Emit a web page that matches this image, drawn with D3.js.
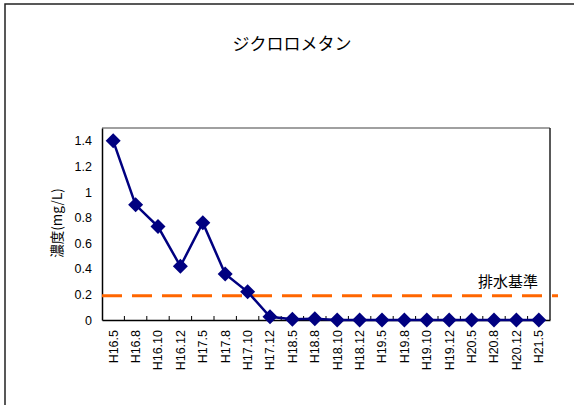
<!DOCTYPE html>
<html><head><meta charset="utf-8">
<script src="https://cdn.jsdelivr.net/npm/d3@7"></script>
<style>html,body{margin:0;padding:0;background:#fff;overflow:hidden}</style>
</head><body>
<svg id="c" width="574" height="405"></svg>
<script>
const categories = ["H16.5","H16.8","H16.10","H16.12","H17.5","H17.8","H17.10","H17.12","H18.5","H18.8","H18.10","H18.12","H19.5","H19.8","H19.10","H19.12","H20.5","H20.8","H20.12","H21.5"];
const values = [1.4,0.90,0.73,0.42,0.76,0.36,0.22,0.025,0.005,0.01,0,0,0,0,0,0,0,0,0,0];
const yTicks = [0,0.2,0.4,0.6,0.8,1,1.2,1.4];
const standardValue = 0.19;
const title = "ジクロロメタン";
const yLabel = "濃度(mg/L)";
const standardLabel = "排水基準";

const svg = d3.select("#c");
const jp = "'Noto Sans CJK JP','Noto Sans',sans-serif";
const num = "'Liberation Sans',Arial,sans-serif";

// outer frame
svg.append("rect").attr("x",5).attr("y",4).attr("width",620).attr("height",460)
  .attr("fill","none").attr("stroke","#222").attr("stroke-width",1.5);

const L=102, R=550, T=128, B=320;
const x = d3.scaleBand().domain(categories).range([L,R]);
const y = d3.scaleLinear().domain([0,1.5]).range([B,T]);

// plot frame top/right
svg.append("line").attr("x1",L).attr("x2",R).attr("y1",T).attr("y2",T).attr("stroke","#808080").attr("stroke-width",1.5);
svg.append("line").attr("x1",R).attr("x2",R).attr("y1",T).attr("y2",B).attr("stroke","#222").attr("stroke-width",1.5);

// y axis
const ya = svg.append("g").attr("transform",`translate(${L},0)`)
  .call(d3.axisLeft(y).tickValues(yTicks).tickSize(0).tickPadding(10).tickFormat(d=>String(d)));
ya.select(".domain").attr("stroke","#000").attr("stroke-width",1.5);
ya.selectAll("text").attr("font-family",num).attr("font-size",12.5).attr("fill","#000");

// x axis
const xa = svg.append("g").attr("transform",`translate(0,${B})`)
  .call(d3.axisBottom(x).tickSize(0).tickPadding(0));
xa.select(".domain").attr("stroke","#000").attr("stroke-width",1.5);
xa.selectAll("text").attr("font-family",num).attr("font-size",12.5).attr("fill","#000")
  .attr("transform","rotate(-90)").attr("text-anchor","end").attr("dy","0.35em")
  .attr("x",-10).attr("y",0);
// tick marks between categories (inward)
svg.append("g").selectAll("line").data(categories.slice(1)).join("line")
  .attr("x1",d=>x(d)).attr("x2",d=>x(d)).attr("y1",B).attr("y2",B-4)
  .attr("stroke","#000").attr("stroke-width",1);

// standard line
svg.append("line").attr("x1",L).attr("x2",558).attr("y1",y(standardValue)).attr("y2",y(standardValue))
  .attr("stroke","#FF6600").attr("stroke-width",3).attr("stroke-dasharray","20,10");
svg.append("text").attr("x",538).attr("y",287).attr("text-anchor","end")
  .attr("font-family",jp).attr("font-size",15).attr("fill","#000").text(standardLabel);

// line
const cx = d=>x(d)+x.bandwidth()/2;
svg.append("path").datum(values)
  .attr("d",d3.line().x((d,i)=>cx(categories[i])).y(d=>y(d)))
  .attr("fill","none").attr("stroke","#000080").attr("stroke-width",2.5);
svg.append("g").selectAll("path").data(values).join("path")
  .attr("transform",(d,i)=>`translate(${cx(categories[i])},${y(d)})`)
  .attr("d","M0,-7.5L7.5,0L0,7.5L-7.5,0Z").attr("fill","#000080");

// title
svg.append("text").attr("x",292).attr("y",50).attr("text-anchor","middle")
  .attr("font-family",jp).attr("font-size",17).attr("fill","#000").text(title);

// y label
svg.append("text").attr("transform","translate(62,223) rotate(-90)").attr("text-anchor","middle")
  .attr("font-family",jp).attr("font-size",13.5).attr("fill","#000").text(yLabel);
</script>
</body></html>
